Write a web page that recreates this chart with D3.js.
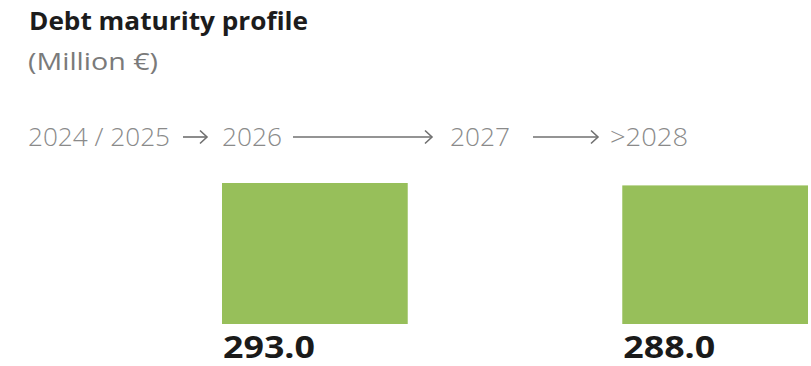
<!DOCTYPE html>
<html>
<head>
<meta charset="utf-8">
<script src="https://cdn.jsdelivr.net/npm/d3@7"></script>
<style>
  html, body { margin: 0; padding: 0; background: #fff; }
  svg { display: block; }
  text { font-family: "Open Sans", "DejaVu Sans", sans-serif; }
</style>
</head>
<body>
<svg id="chart" width="811" height="366"></svg>
<script>
// ---- data ----
const title = "Debt maturity profile";
const subtitle = "(Million €)";
const timelineLabels = ["2024 / 2025", "2026", "2027", ">2028"];
const barCategories = ["2026", ">2028"];
const barValues = [293.0, 288.0];

// ---- layout ----
const svg = d3.select("#chart");

svg.append("text").attr("x", 29).attr("y", 30)
  .attr("font-size", 25).attr("font-weight", 700).attr("fill", "#1c1c1c")
  .attr("textLength", 279).attr("lengthAdjust", "spacingAndGlyphs")
  .text(title);

svg.append("text").attr("x", 28).attr("y", 70)
  .attr("font-size", 24).attr("font-weight", 400).attr("fill", "#7a7a7a")
  .attr("textLength", 130).attr("lengthAdjust", "spacingAndGlyphs")
  .text(subtitle);

// timeline header: label x-extents and connector extents
const tlBaseline = 146;
const tlSpans = [[28, 170], [222, 282], [450, 510], [610, 688]];
const connectors = [[183, 207], [293, 432], [533, 598]];
const tlY = 137;

const tl = svg.append("g");
tl.selectAll("text").data(timelineLabels).join("text")
  .attr("x", (d, i) => tlSpans[i][0])
  .attr("y", tlBaseline)
  .attr("font-size", 25).attr("font-weight", 300).attr("fill", "#8a8a8a")
  .attr("textLength", (d, i) => tlSpans[i][1] - tlSpans[i][0])
  .attr("lengthAdjust", "spacingAndGlyphs")
  .text(d => d);

const conn = tl.selectAll("g.conn").data(connectors).join("g").attr("class", "conn");
conn.append("line")
  .attr("x1", d => d[0]).attr("x2", d => d[1] - 1)
  .attr("y1", tlY).attr("y2", tlY)
  .attr("stroke", "#707070").attr("stroke-width", 1.6);
conn.append("path")
  .attr("d", d => `M${d[1] - 7},${tlY - 6.5} L${d[1]},${tlY} L${d[1] - 7},${tlY + 6.5}`)
  .attr("fill", "none").attr("stroke", "#707070").attr("stroke-width", 1.6)
  .attr("stroke-linejoin", "miter");

// bars
const x = d3.scaleBand().domain(barCategories).range([222, 808]).paddingInner(0.536).paddingOuter(0);
const y = d3.scaleLinear().domain([0, d3.max(barValues)]).range([324, 183]);

const bars = svg.append("g");
bars.selectAll("rect").data(barCategories).join("rect")
  .attr("x", d => x(d))
  .attr("width", x.bandwidth())
  .attr("y", (d, i) => y(barValues[i]))
  .attr("height", (d, i) => y(0) - y(barValues[i]))
  .attr("fill", "#97bf5a");

bars.selectAll("text").data(barCategories).join("text")
  .attr("x", d => x(d) + 1)
  .attr("y", 358)
  .attr("font-size", 31).attr("font-weight", 700).attr("fill", "#1a1a1a")
  .attr("textLength", 92).attr("lengthAdjust", "spacingAndGlyphs")
  .text((d, i) => d3.format(".1f")(barValues[i]));
</script>
</body>
</html>
